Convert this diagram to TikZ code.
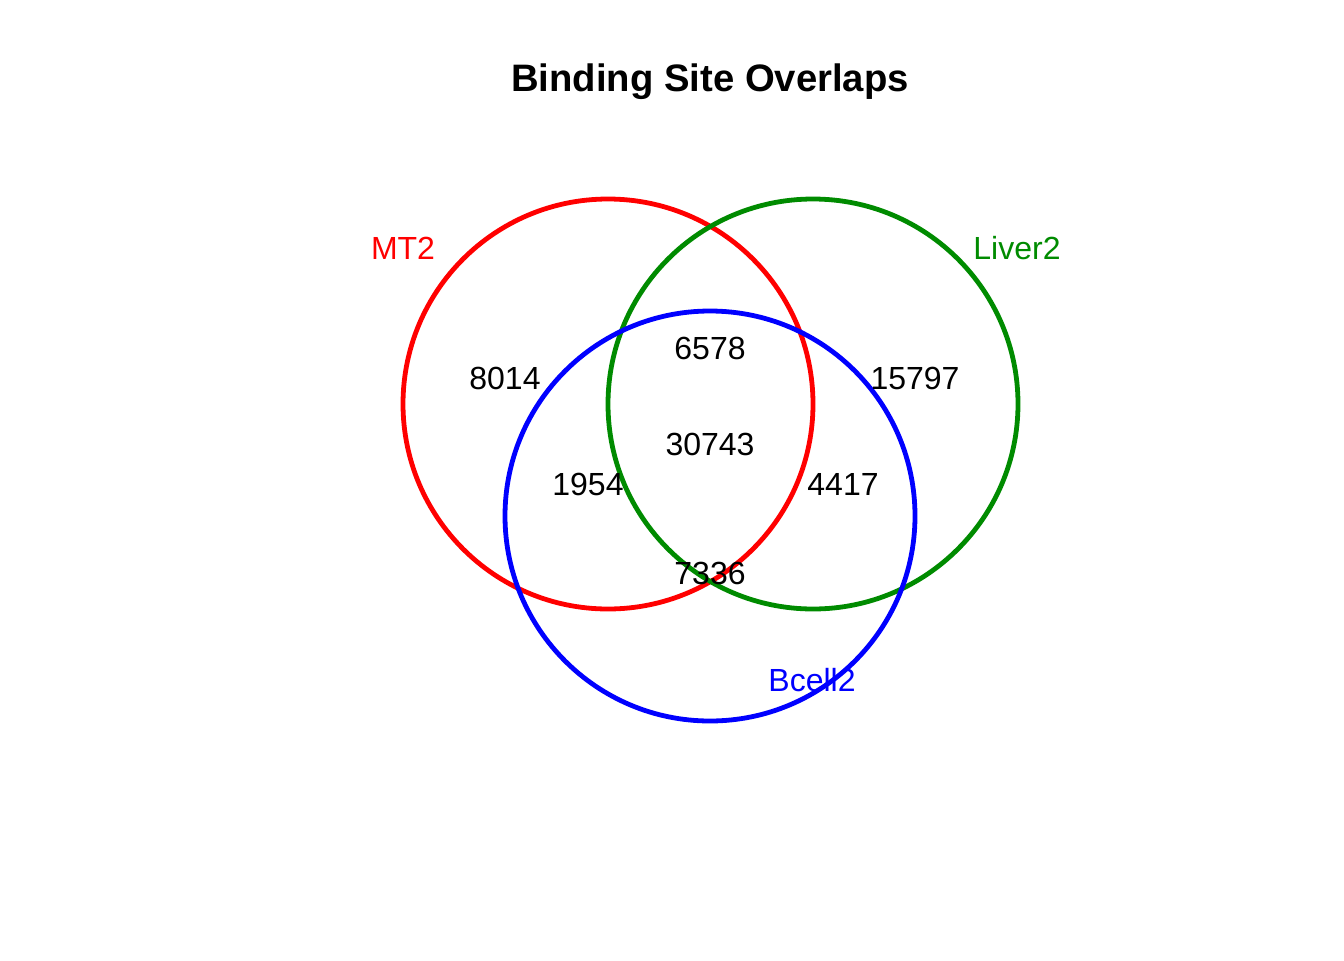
\documentclass[tikz,border=0pt]{standalone}
\usepackage{fontspec}
\setmainfont{Liberation Sans}
\definecolor{vred}{RGB}{255,0,0}
\definecolor{vgreen}{RGB}{0,139,0}
\definecolor{vblue}{RGB}{0,0,255}
\tikzset{
  setcircle/.style={circle, draw=#1, line width=3.6pt, minimum size=307.5pt, inner sep=0pt},
  count/.style={font=\fontsize{24}{28}\selectfont, inner sep=0pt, anchor=center},
  setlabel/.style={font=\fontsize{24}{28}\selectfont, text=#1, inner sep=0pt, anchor=center},
  titletext/.style={font=\fontsize{28.7}{33}\selectfont\bfseries, inner sep=0pt}
}
\begin{document}
\begin{tikzpicture}[x=0.75pt,y=-0.75pt]
\useasboundingbox (0,0) rectangle (1344,960);
\node[titletext] (title) at (710,82) {Binding Site Overlaps};
\node[setcircle=vred] (mt2) at (608,404) {};
\node[setcircle=vgreen] (liver2) at (813,404) {};
\node[setcircle=vblue] (bcell2) at (710,516) {};
\node[setlabel=vred] (lmt2) at (403,248) {MT2};
\node[setlabel=vgreen] (lliver2) at (1017,248) {Liver2};
\node[setlabel=vblue] (lbcell2) at (812,680) {Bcell2};
\node[count] (n8014) at (505,378) {8014};
\node[count] (n6578) at (710,348) {6578};
\node[count] (n15797) at (915,378) {15797};
\node[count] (n30743) at (710,444) {30743};
\node[count] (n1954) at (588,484) {1954};
\node[count] (n4417) at (843,484) {4417};
\node[count] (n7336) at (710,573) {7336};
\end{tikzpicture}
\end{document}
